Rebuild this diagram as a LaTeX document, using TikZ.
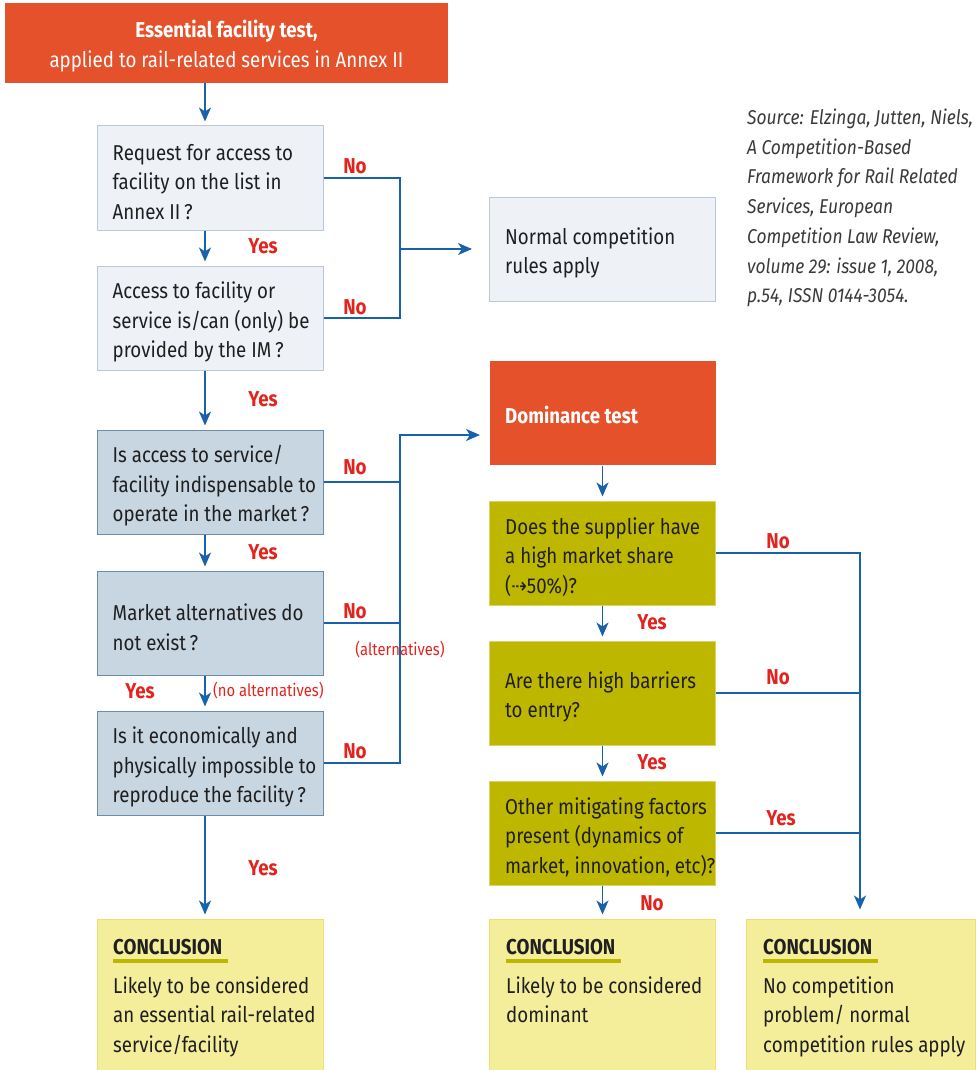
\documentclass[tikz,border=0pt]{standalone}
\usepackage{fontspec}
\setmainfont{Fira Sans}[FakeStretch=0.87]
\newfontfamily\arrowfont{DejaVu Sans}[FakeStretch=0.87]
\usetikzlibrary{arrows.meta}
\usetikzlibrary{positioning}
\definecolor{testred}{HTML}{E5512A}
\definecolor{paleblue}{HTML}{EEF2F7}
\definecolor{paleline}{HTML}{BAC9DA}
\definecolor{greyblue}{HTML}{C8D6E2}
\definecolor{greyline}{HTML}{6B8DAC}
\definecolor{olive}{HTML}{BDB700}
\definecolor{oliveline}{HTML}{D9D36A}
\definecolor{concl}{HTML}{F4ED9A}
\definecolor{conclline}{HTML}{EAE070}
\definecolor{flowblue}{HTML}{1862AB}
\definecolor{answerred}{HTML}{E3231D}
\definecolor{sourcegrey}{HTML}{3A3A3A}
\newcommand{\boxfont}{\fontsize{21.5}{29.5}\selectfont}
\newcommand{\asidefont}{\fontsize{17}{18}\selectfont}
\newcommand{\srcfont}{\fontsize{20}{29.7}\selectfont\itshape}
\tikzset{
  qbox/.style={rectangle, line width=1pt, minimum width=226, minimum height=104, inner sep=0pt},
  qtxt/.style={anchor=west, align=left, inner sep=0pt, font=\boxfont, text=black!88, yshift=-4pt},
  flow/.style={draw=flowblue, line width=1.8pt},
  arr/.style={flow, -{Stealth[length=14pt, width=12pt, inset=4pt]}},
  answer/.style={inner sep=0pt, font=\boxfont\bfseries, text=answerred},
  aside/.style={inner sep=0pt, font=\asidefont, text=answerred},
  uline/.style={draw=olive, line width=4pt},
}

\begin{document}
\begin{tikzpicture}[x=1pt,y=1pt,yscale=-1,xscale=1]
\useasboundingbox (0,0) rectangle (979,1070);

% Essential facility test
\node[qbox, fill=testred, minimum width=443, minimum height=80] (essential) at (226.5,43) {};
\node[inner sep=0pt, align=center, font=\boxfont, text=white] (essentialtxt) at (226.5,46) {\textbf{Essential facility test,}\\applied to rail-related services in Annex II};

% Question boxes, left column
\node[qbox, draw=paleline, fill=paleblue] (access) at (210,178) {};
\node[qtxt, right=16pt of access.west] (accesstxt) {Request for access to\\facility on the list in\\Annex II\,?};
\node[qbox, draw=paleline, fill=paleblue] (provided) at (210,318) {};
\node[qtxt, right=16pt of provided.west] (providedtxt) {Access to facility or\\service is/can (only) be\\provided by the IM\,?};
\node[qbox, draw=greyline, fill=greyblue] (indispensable) at (210,482) {};
\node[qtxt, right=16pt of indispensable.west] (indispensabletxt) {Is access to service/\\facility indispensable to\\operate in the market\,?};
\node[qbox, draw=greyline, fill=greyblue] (alternatives) at (210,623) {};
\node[qtxt, right=16pt of alternatives.west] (alternativestxt) {Market alternatives do\\not exist\,?};
\node[qbox, draw=greyline, fill=greyblue] (reproduce) at (210,763) {};
\node[qtxt, right=16pt of reproduce.west] (reproducetxt) {Is it economically and\\physically impossible to\\reproduce the facility\,?};

% Normal competition rules
\node[qbox, draw=paleline, fill=paleblue] (normal) at (602.5,249) {};
\node[qtxt, right=16pt of normal.west] (normaltxt) {Normal competition\\rules apply};

% Source
\node[inner sep=0pt, anchor=west, align=left, font=\srcfont, text=sourcegrey] (source) at (747,208) {Source: Elzinga, Jutten, Niels,\\A Competition-Based\\Framework for Rail Related\\Services, European\\Competition Law Review,\\volume 29: issue 1, 2008,\\p.54, ISSN 0144-3054.};

% Dominance test, right column
\node[qbox, fill=testred] (dominance) at (602.5,413) {};
\node[qtxt, right=16pt of dominance.west, font=\boxfont\bfseries, text=white, yshift=2pt] (dominancetxt) {Dominance test};
\node[qbox, draw=oliveline, fill=olive] (share) at (602.5,553) {};
\node[qtxt, right=16pt of share.west] (sharetxt) {Does the supplier have\\a high market share\\({\arrowfont\char"21E2}50\%)?};
\node[qbox, draw=oliveline, fill=olive] (barriers) at (602.5,693) {};
\node[qtxt, right=16pt of barriers.west] (barrierstxt) {Are there high barriers\\to entry?};
\node[qbox, draw=oliveline, fill=olive] (mitigating) at (602.5,833) {};
\node[qtxt, right=16pt of mitigating.west] (mitigatingtxt) {Other mitigating factors\\present (dynamics of\\market, innovation, etc)?};

% Conclusions
\node[qbox, draw=conclline, fill=concl, minimum height=152] (essentialconcl) at (210,995) {};
\node[qtxt, font=\boxfont\bfseries] (essentialhead) at (113,943) {CONCLUSION};
\node[qtxt] (essentialbody) at (113,1012.5) {Likely to be considered\\an essential rail-related\\service/facility};
\node[qbox, draw=conclline, fill=concl, minimum height=152] (dominantconcl) at (602.5,995) {};
\node[qtxt, font=\boxfont\bfseries] (dominanthead) at (506,943) {CONCLUSION};
\node[qtxt] (dominantbody) at (506,995.5) {Likely to be considered\\dominant};
\node[qbox, draw=conclline, fill=concl, minimum width=229, minimum height=152] (nocompconcl) at (860.5,995) {};
\node[qtxt, font=\boxfont\bfseries] (nocomphead) at (763,943) {CONCLUSION};
\node[qtxt] (nocompbody) at (763,1012.5) {No competition\\problem/ normal\\competition rules apply};
\draw[uline] (essentialhead.south west) ++(0,6) -- ++(115,0);
\draw[uline] (dominanthead.south west) ++(0,6) -- ++(115,0);
\draw[uline] (nocomphead.south west) ++(0,6) -- ++(115,0);

% Answers
\node[answer] (no1) at (355,166) {No};
\node[answer] (yes1) at (263,246) {Yes};
\node[answer] (no2) at (355,307) {No};
\node[answer] (yes2) at (263,399) {Yes};
\node[answer] (no3) at (355,467) {No};
\node[answer] (yes3) at (263,552) {Yes};
\node[answer] (no4) at (355,611) {No};
\node[aside] (alt) at (400,650) {(alternatives)};
\node[answer] (yes4) at (140,691) {Yes};
\node[aside, anchor=west] (noalt) at (213,691) {(no alternatives)};
\node[answer] (no5) at (355,751) {No};
\node[answer] (yes5) at (263,868) {Yes};
\node[answer] (no6) at (778,541) {No};
\node[answer] (yes6) at (652,622) {Yes};
\node[answer] (no7) at (778,677) {No};
\node[answer] (yes7) at (652,762) {Yes};
\node[answer] (yes8) at (781,818) {Yes};
\node[answer] (no8) at (652,903) {No};

% Connectors
\coordinate (leftline) at (205,0);
\coordinate (splitA) at (400,0);
\coordinate (splitB) at (400,435);
\coordinate (rightline) at (860,0);

\draw[arr, shorten >=4pt] (essential.south -| leftline) -- (access.north -| leftline);
\draw[arr, shorten >=4pt] (access.south -| leftline) -- (provided.north -| leftline);
\draw[arr, shorten >=4pt] (provided.south -| leftline) -- (indispensable.north -| leftline);
\draw[arr, shorten >=4pt] (indispensable.south -| leftline) -- (alternatives.north -| leftline);
\draw[arr, shorten >=4pt] (alternatives.south -| leftline) -- (reproduce.north -| leftline);
\draw[arr, shorten >=4pt] (reproduce.south -| leftline) -- (essentialconcl.north -| leftline);

\draw[flow] (access.east) -- (access.east -| splitA) -- (provided.east -| splitA) -- (provided.east);
\draw[arr, shorten >=17pt] (normal.west -| splitA) -- (normal.west);
\draw[flow] (indispensable.east) -- (indispensable.east -| splitA);
\draw[flow] (alternatives.east) -- (alternatives.east -| splitA);
\draw[arr, shorten >=9pt] (reproduce.east) -- (reproduce.east -| splitB) -- (splitB) -- (splitB -| dominance.west);

\draw[arr, shorten >=4pt] (dominance.south) -- (share.north);
\draw[arr, shorten >=4pt] (share.south) -- (barriers.north);
\draw[arr, shorten >=4pt] (barriers.south) -- (mitigating.north);
\draw[arr, shorten >=4pt] (mitigating.south) -- (dominantconcl.north);
\draw[flow] (barriers.east) -- (barriers.east -| rightline);
\draw[flow] (mitigating.east) -- (mitigating.east -| rightline);
\draw[arr, shorten >=9pt] (share.east) -- (share.east -| rightline) -- (nocompconcl.north -| rightline);

\end{tikzpicture}
\end{document}
